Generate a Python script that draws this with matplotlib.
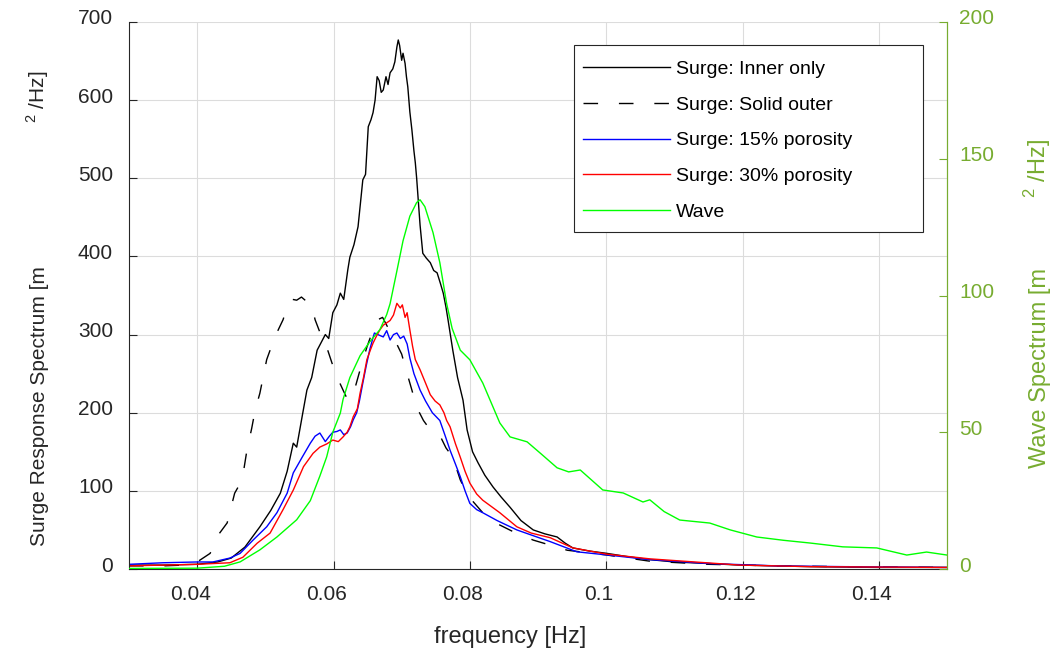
import matplotlib
matplotlib.use("Agg")
import matplotlib.pyplot as plt
import matplotlib.transforms as mtransforms
from matplotlib.patches import Rectangle

plt.rcParams['font.family'] = ['Liberation Sans', 'DejaVu Sans']
plt.rcParams['mathtext.fontset'] = 'custom'
plt.rcParams['mathtext.rm'] = 'Liberation Sans'
plt.rcParams['lines.scale_dashes'] = False

# surge: inner only
f_inner = [0.030, 0.035, 0.040, 0.043, 0.045, 0.047, 0.0492, 0.0508, 0.0522, 0.0532,
           0.0541, 0.0546, 0.0555, 0.0561, 0.0568, 0.0576, 0.0582, 0.0588, 0.0593, 0.0599,
           0.0605, 0.0610, 0.0615, 0.0621, 0.0624, 0.0630, 0.0636, 0.0643, 0.0647, 0.0651,
           0.0655, 0.0658, 0.0661, 0.0664, 0.0667, 0.0670, 0.0673, 0.0677, 0.0680, 0.0683,
           0.0687, 0.0690, 0.0693, 0.0695, 0.0697, 0.0700, 0.0702, 0.0705, 0.0707, 0.0709,
           0.0712, 0.0715, 0.0718, 0.0720, 0.0722, 0.0724, 0.0727, 0.0731, 0.0736, 0.0742,
           0.0747, 0.0752, 0.0757, 0.0761, 0.0765, 0.0768, 0.0775, 0.0782, 0.0790, 0.0796,
           0.0804, 0.0812, 0.0822, 0.0834, 0.0846, 0.0859, 0.0875, 0.0893, 0.0910, 0.0928,
           0.0940, 0.0951, 0.0975, 0.1001, 0.1030, 0.1064, 0.110, 0.115, 0.1196, 0.125,
           0.130, 0.140, 0.150]
s_inner = [5, 5, 6, 9, 14, 28, 54, 75, 97, 125,
           161, 156, 200, 229, 245, 280, 290, 300, 295, 328,
           338, 353, 345, 383, 399, 415, 438, 498, 505, 566,
           575, 584, 600, 630, 625, 610, 613, 630, 620, 635,
           640, 649, 668, 677, 670, 651, 660, 647, 630, 617,
           585, 562, 535, 520, 500, 476, 440, 404, 398, 392,
           382, 379, 365, 353, 335, 319, 280, 245, 216, 178,
           150, 136, 120, 105, 92, 79, 62, 50, 45, 41,
           33, 27, 23, 20, 16, 12, 9, 7, 5, 4,
           3, 2, 2]

# surge: solid outer
f_solid = [0.030, 0.035, 0.038, 0.040, 0.0419, 0.0433, 0.0444, 0.0455, 0.0466, 0.0473,
           0.0480, 0.0485, 0.0492, 0.0502, 0.0514, 0.0526, 0.0533, 0.0540, 0.0546, 0.0553,
           0.0561, 0.0568, 0.0573, 0.0580, 0.0590, 0.0598, 0.0605, 0.0614, 0.0621, 0.0627,
           0.0632, 0.0640, 0.0649, 0.0658, 0.0665, 0.0672, 0.0678, 0.0685, 0.0690, 0.0700,
           0.0708, 0.0715, 0.0722, 0.0732, 0.0742, 0.0756, 0.0765, 0.0775, 0.0786, 0.0795,
           0.0805, 0.0819, 0.0840, 0.0863, 0.0893, 0.0943, 0.1000, 0.1064, 0.115, 0.125,
           0.135, 0.150]
s_solid = [4, 4, 5, 9, 20, 46, 59, 97, 114, 152,
           180, 203, 225, 268, 297, 319, 338, 345, 344, 348,
           342, 338, 319, 303, 284, 263, 246, 229, 216, 222,
           233, 258, 284, 306, 319, 322, 312, 300, 293, 275,
           250, 229, 207, 190, 178, 171, 155, 143, 114, 98,
           86, 72, 58, 48, 37, 24, 18, 10, 6, 4,
           3, 2]

# surge: 15% porosity
f_p15 = [0.030, 0.035, 0.040, 0.0423, 0.0448, 0.0463, 0.0482, 0.0502, 0.0517, 0.0532,
         0.0541, 0.0554, 0.0566, 0.0573, 0.0580, 0.0588, 0.0594, 0.0599, 0.0605, 0.0610,
         0.0615, 0.0620, 0.0625, 0.0629, 0.0634, 0.0638, 0.0643, 0.0648, 0.0653, 0.0657,
         0.0660, 0.0665, 0.0673, 0.0678, 0.0683, 0.0688, 0.0693, 0.0698, 0.0703, 0.0708,
         0.0712, 0.0718, 0.0727, 0.0735, 0.0745, 0.0756, 0.0764, 0.0771, 0.0779, 0.0786,
         0.0793, 0.0800, 0.0810, 0.0819, 0.0840, 0.0869, 0.0895, 0.0918, 0.0957, 0.1001,
         0.1064, 0.115, 0.125, 0.135, 0.150]
s_p15 = [6, 8, 9, 9, 14, 20, 37, 54, 72, 97,
         123, 143, 161, 170, 174, 163, 170, 175, 176, 178,
         172, 174, 182, 191, 200, 215, 238, 260, 280, 293,
         302, 300, 297, 305, 293, 300, 302, 295, 298, 288,
         270, 250, 229, 215, 200, 190, 170, 152, 134, 118,
         100, 84, 76, 72, 62, 50, 42, 35, 22, 18,
         12, 7, 4, 3, 2]

# surge: 30% porosity
f_p30 = [0.030, 0.035, 0.040, 0.0448, 0.0467, 0.0488, 0.0507, 0.0526, 0.0541, 0.0556,
         0.0570, 0.0580, 0.0590, 0.0599, 0.0607, 0.0614, 0.0620, 0.0624, 0.0629, 0.0635,
         0.0639, 0.0644, 0.0649, 0.0654, 0.0658, 0.0663, 0.0668, 0.0673, 0.0678, 0.0683,
         0.0688, 0.0693, 0.0698, 0.0701, 0.0705, 0.0708, 0.0712, 0.0716, 0.0720, 0.0727,
         0.0735, 0.0742, 0.0749, 0.0756, 0.0762, 0.0766, 0.0771, 0.0779, 0.0786, 0.0793,
         0.0800, 0.0810, 0.0819, 0.0844, 0.0869, 0.0890, 0.0918, 0.0951, 0.1001, 0.1064,
         0.1196, 0.130, 0.150]
s_p30 = [4, 5, 6, 8, 15, 33, 46, 76, 101, 131,
         148, 156, 160, 165, 163, 169, 175, 182, 195, 205,
         225, 245, 268, 280, 289, 298, 306, 312, 315, 318,
         325, 340, 334, 338, 322, 328, 306, 285, 268, 255,
         238, 223, 215, 210, 200, 190, 182, 160, 143, 125,
         110, 96, 88, 72, 54, 46, 40, 27, 19, 13,
         5, 3, 2]

# wave spectrum (right axis)
f_wave = [0.030, 0.040, 0.044, 0.0463, 0.0492, 0.0517, 0.0546, 0.0566, 0.0580, 0.0590,
          0.0599, 0.0610, 0.0614, 0.0624, 0.0639, 0.0653, 0.0668, 0.0678, 0.0683, 0.0693,
          0.0702, 0.0712, 0.0722, 0.0727, 0.0734, 0.0746, 0.0756, 0.0766, 0.0774, 0.0786,
          0.0800, 0.0819, 0.0844, 0.0859, 0.0884, 0.0905, 0.0928, 0.0945, 0.0962, 0.0995,
          0.1025, 0.1054, 0.1064, 0.1085, 0.1108, 0.1152, 0.1182, 0.1221, 0.1260, 0.1299,
          0.1347, 0.1397, 0.1441, 0.147, 0.150]
s_wave = [0.2, 0.3, 1, 2.6, 7, 11.7, 18, 25, 34, 41,
          50, 57, 62, 70, 78, 83, 87.5, 93, 97, 109,
          120, 129, 134, 135, 132.5, 123, 112, 97, 88, 80,
          76.5, 68, 53.4, 48.3, 46.5, 42, 37, 35.5, 36.2, 28.9,
          27.8, 24.5, 25.3, 21, 17.9, 16.8, 14.3, 11.7, 10.5, 9.5,
          8.1, 7.7, 5.1, 6.2, 5.1]

labels = ["Surge: Inner only", "Surge: Solid outer", "Surge: 15% porosity",
          "Surge: 30% porosity", "Wave"]
xtick_vals = [0.04, 0.06, 0.08, 0.1, 0.12, 0.14]
xtick_text = ['0.04', '0.06', '0.08', '0.1', '0.12', '0.14']

dark = '#262626'
green_ax = '#77AC30'
W, H = 1053, 653

fig = plt.figure(figsize=(W / 100, H / 100), dpi=100)
ax = fig.add_axes([129 / W, 84 / H, 818 / W, 547 / H])
ax2 = ax.twinx()

lw = 1.0
h1, = ax.plot(f_inner, s_inner, color='black', lw=lw)
h2, = ax.plot(f_solid, s_solid, color='black', lw=lw, linestyle=(0, (10.5, 15)))
h3, = ax.plot(f_p15, s_p15, color='#0000ff', lw=lw)
h4, = ax.plot(f_p30, s_p30, color='#ff0000', lw=lw)
h5, = ax2.plot(f_wave, s_wave, color='#00ff00', lw=lw)

ax.set_xlim(0.03, 0.15)
ax.set_ylim(0, 700)
ax2.set_ylim(0, 200)
ax.set_xticks(xtick_vals)
ax.set_xticklabels(xtick_text)
ax.set_yticks(range(0, 701, 100))
ax2.set_yticks(range(0, 201, 50))

ax.grid(True, color='#dcdcdc', linewidth=0.8)
ax.set_axisbelow(True)

ax.tick_params(axis='x', direction='in', length=6, width=0.8, colors=dark,
               labelsize=15, pad=11.5, top=False)
ax.tick_params(axis='y', direction='in', length=6, width=0.8, colors=dark,
               labelsize=15, pad=11.5, right=False)
ax2.tick_params(axis='y', direction='in', length=6, width=0.8, colors=green_ax,
                labelsize=15, pad=9)

for a in (ax, ax2):
    a.spines['top'].set_visible(False)
    a.spines['left'].set_color(dark)
    a.spines['bottom'].set_color(dark)
    a.spines['right'].set_color(green_ax)
ax2.spines['left'].set_visible(False)
ax2.spines['bottom'].set_visible(False)

# MATLAB-like tick label offsets
shift_x = mtransforms.ScaledTranslation(-7 / 100, 0, fig.dpi_scale_trans)
shift_y = mtransforms.ScaledTranslation(0, 5 / 100, fig.dpi_scale_trans)
for t in ax.xaxis.get_major_ticks():
    t.label1.set_transform(t.label1.get_transform() + shift_x)
for t in ax.yaxis.get_major_ticks() + ax2.yaxis.get_major_ticks():
    t.label1.set_transform(t.label1.get_transform() + shift_y)
    t.label2.set_transform(t.label2.get_transform() + shift_y)

fig.text(510 / W, 1 - 637 / H, 'frequency [Hz]', ha='center', va='center',
         fontsize=17, color=dark)

# y labels (split rendering of the superscript, as in the original)
fig.text(45 / W, 1 - 406 / H, 'Surge Response Spectrum [m', rotation=90,
         rotation_mode='anchor', ha='center', va='baseline', fontsize=15, color=dark)
fig.text(45 / W, 1 - 97 / H, '$^{2}$ /Hz]', rotation=90,
         rotation_mode='anchor', ha='center', va='baseline', fontsize=15, color=dark)
fig.text(1046 / W, 1 - 368 / H, 'Wave Spectrum [m', rotation=90,
         rotation_mode='anchor', ha='center', va='baseline', fontsize=17, color=green_ax)
fig.text(1046 / W, 1 - 168 / H, '$^{2}$ /Hz]', rotation=90,
         rotation_mode='anchor', ha='center', va='baseline', fontsize=17, color=green_ax)

# legend box drawn separately to get MATLAB's wide frame
box = Rectangle((574 / W, 1 - 232 / H), 349 / W, 187 / H, transform=fig.transFigure,
                facecolor='white', edgecolor=dark, linewidth=0.8, zorder=4.5,
                clip_on=False)
ax2.add_patch(box)
leg = ax2.legend([h1, h2, h3, h4, h5], labels, loc='upper left',
                 bbox_to_anchor=(583 / W, 1 - 60 / H), bbox_transform=fig.transFigure,
                 fontsize=14, frameon=False, handlelength=4.45, labelspacing=0.94,
                 borderpad=0, borderaxespad=0, handletextpad=0.35)
leg.set_zorder(5)

fig.savefig('out.png', dpi=100)
